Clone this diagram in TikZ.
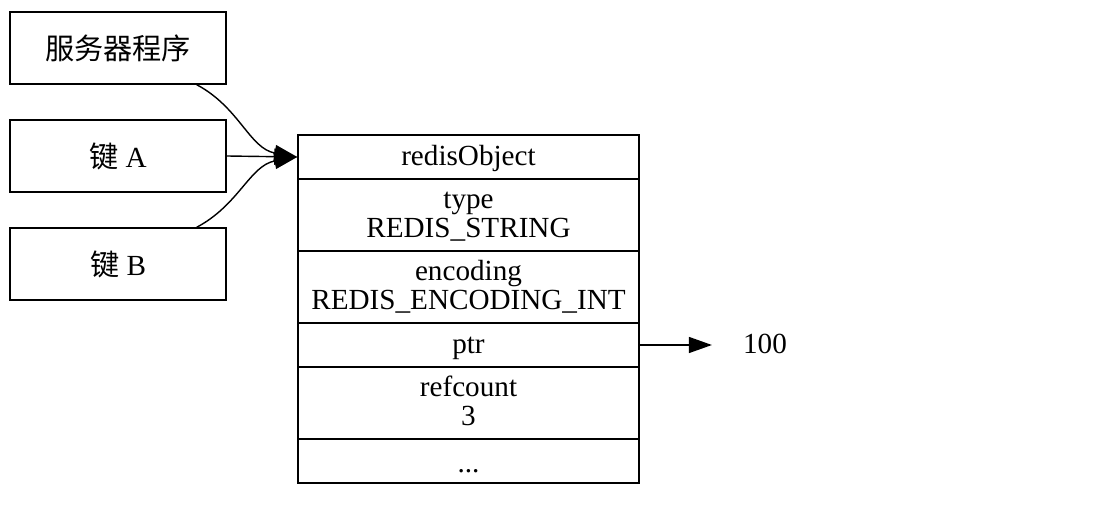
\documentclass[tikz,border=0pt]{standalone}
\usepackage{fontspec}
\setmainfont{Liberation Serif}
\newfontfamily\cjk{Noto Sans CJK SC}
\usetikzlibrary{arrows.meta,calc,positioning}
\tikzstyle{holder} = [draw, thick, minimum width=4.32cm, minimum height=1.44cm, inner sep=0pt]
\tikzstyle{cell} = [draw, thick, minimum width=6.82cm, inner sep=0pt, align=center]
\tikzstyle{oneline} = [cell, minimum height=0.88cm, text height=0.45cm, text depth=0.12cm]
\tikzstyle{twoline} = [cell, minimum height=1.44cm, text height=1.04cm, text depth=0.12cm]
\tikzstyle{arrow} = [thick, -{Triangle[length=0.46cm,width=0.32cm]}]

\begin{document}
\begin{tikzpicture}[font=\fontsize{16.6}{16.6}\selectfont]
\useasboundingbox (0,0) rectangle (21.88,10.28);
% holders on the left
\draw (2.36,9.32) node (srv) [holder] {\cjk 服务器程序};
\draw (2.36,7.16) node (keyA) [holder] {{\cjk 键} A};
\draw (2.36,5.00) node (keyB) [holder] {{\cjk 键} B};
% the redisObject record
\draw (9.37,7.14) node (r0) [oneline] {redisObject};
\draw (9.37,5.98) node (r1) [twoline] {type\\REDIS\_STRING};
\draw (9.37,4.54) node (r2) [twoline] {encoding\\REDIS\_ENCODING\_INT};
\draw (9.37,3.38) node (r3) [oneline] {ptr};
\draw (9.37,2.22) node (r4) [twoline] {refcount\\3};
\draw (9.37,1.06) node (r5) [oneline, text height=0.52cm, text depth=0.05cm] {...};
\node (val) at (15.3,3.38) [text height=0.45cm, text depth=0.12cm] {100};
% pointers
\draw[arrow] ($(srv.south east)+(-0.6,0)$) to[out=-28,in=170] (r0.west);
\draw[arrow] (keyA.east) -- (r0.west);
\draw[arrow] ($(keyB.north east)+(-0.6,0)$) to[out=28,in=190] (r0.west);
\draw[arrow, shorten >=0.5cm] (r3.east) -- (val.west);
\end{tikzpicture}
\end{document}
